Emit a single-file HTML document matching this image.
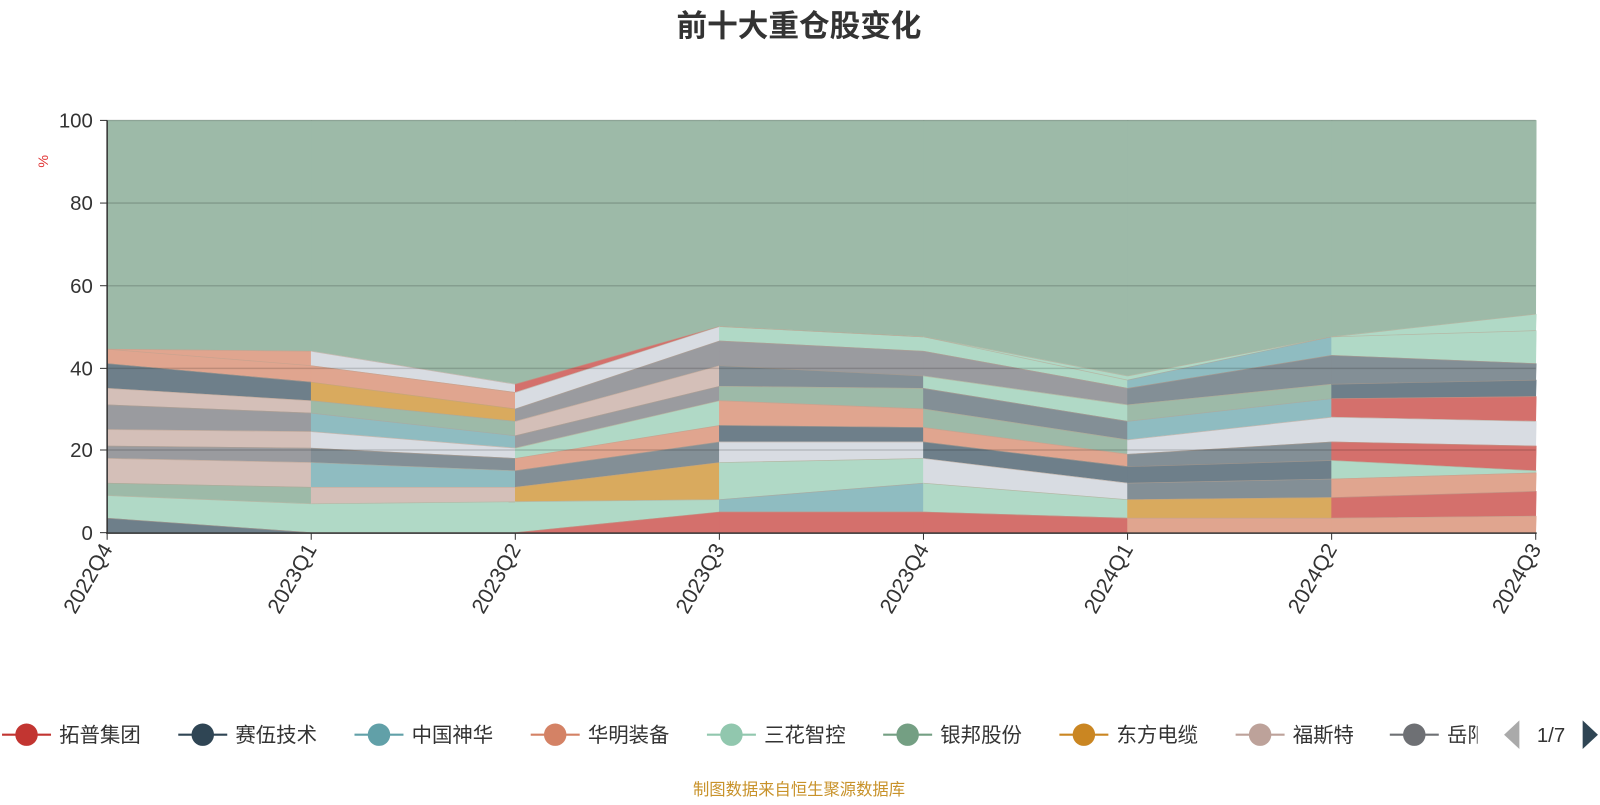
<!DOCTYPE html><html><head><meta charset="utf-8"><style>body{margin:0;background:#fff;width:1600px;height:800px;overflow:hidden;font-family:"Liberation Sans","Noto Sans CJK SC",sans-serif}</style></head><body>
<svg id="s" width="1600" height="800" viewBox="0 0 1568 784" xmlns="http://www.w3.org/2000/svg" font-family="Liberation Sans, Noto Sans CJK SC, sans-serif">
<text x="783" y="36" text-anchor="middle" font-size="30" font-weight="bold" fill="#333">前十大重仓股变化</text>
<g id="areas"></g>
<g stroke="#000" stroke-opacity="0.15" stroke-width="1.5">
<line x1="105" x2="1505" y1="118" y2="118"/><line x1="105" x2="1505" y1="199" y2="199"/><line x1="105" x2="1505" y1="280" y2="280"/><line x1="105" x2="1505" y1="361" y2="361"/><line x1="105" x2="1505" y1="441" y2="441"/></g>
<line x1="105" y1="118" x2="105" y2="523" stroke="#333" stroke-width="1.5"/>
<line x1="104" y1="522.5" x2="1506" y2="522.5" stroke="#333" stroke-width="1.5"/>
<g stroke="#333"><line x1="98" x2="105" y1="118" y2="118"/><line x1="98" x2="105" y1="199" y2="199"/><line x1="98" x2="105" y1="280" y2="280"/><line x1="98" x2="105" y1="361" y2="361"/><line x1="98" x2="105" y1="441" y2="441"/><line x1="98" x2="105" y1="522" y2="522"/></g>
<g font-size="20" fill="#333" text-anchor="end"><text x="91" y="125">100</text><text x="91" y="206">80</text><text x="91" y="287">60</text><text x="91" y="368">40</text><text x="91" y="448">20</text><text x="91" y="529">0</text></g>
<text x="47" y="158" fill="#e03030" font-size="14" transform="rotate(-90 47 158)" text-anchor="middle">%</text>
<g id="xl" font-size="21" fill="#333" text-anchor="end"></g>
<g id="leg" font-size="20" fill="#333"></g>
<polygon points="1489,706 1489,734 1474,720" fill="#aaa"/>
<text x="1520" y="727" font-size="20" fill="#333" text-anchor="middle">1/7</text>
<polygon points="1551,706 1551,734 1566,720" fill="#2f4554"/>
<text x="783" y="779" text-anchor="middle" font-size="16" fill="#c8922a">制图数据来自恒生聚源数据库</text>
</svg>
<script>
var C={g:'#9dbaa8',m:'#b0d9c6',s:'#6e7f8a',y:'#9a9b9f',b:'#838f96',e:'#d4bfb8',a:'#e0a58f',r:'#d4706c',t:'#8fbcc1',o:'#d9aa5e',w:'#d8dce2',h:'#9dbaa8'};
var cols=[
[[3.5,'s'],[9,'m'],[12,'h'],[18,'e'],[21,'y'],[25,'e'],[31,'y'],[35,'e'],[41,'s'],[44.5,'a']],
[[0,'s'],[7,'m'],[11,'e'],[17,'t'],[20.5,'b'],[24.5,'w'],[29,'t'],[32,'h'],[36.5,'o'],[40.5,'a'],[44,'w']],
[[0,'r'],[7.5,'m'],[11,'o'],[15,'b'],[18,'a'],[20.5,'m'],[23.5,'y'],[27,'e'],[30,'y'],[34,'w'],[36,'r']],
[[5,'r'],[8,'t'],[17,'m'],[22,'w'],[26,'s'],[32,'a'],[35.5,'h'],[40.5,'b'],[46.5,'y'],[50,'m']],
[[5,'r'],[12,'m'],[18,'w'],[22,'s'],[25.5,'a'],[30,'h'],[35,'b'],[38,'m'],[44,'y'],[47.5,'m']],
[[3.5,'a'],[8,'o'],[12,'b'],[16,'s'],[19,'b'],[22.5,'w'],[27,'t'],[31,'h'],[35,'b'],[37,'t'],[38,'m']],
[[3.5,'a'],[8.5,'r'],[13,'a'],[17.5,'m'],[22,'r'],[28,'w'],[32.5,'r'],[36,'s'],[43,'b'],[47.5,'m']],
[[4,'t'],[10,'r'],[14.5,'a'],[15,'m'],[21,'r'],[27,'w'],[33,'r'],[37,'s'],[41,'o'],[49,'b'],[53,'m']]];
var N=12;cols=cols.map(function(c){c=c.slice();while(c.length<N-1)c.push([c[c.length-1][0],c[c.length-1][1]]);c.push([100,'g']);return c;});
function X(i){return 105+200*i}function Y(v){return 522-v*4.04}
var h='';
for(var i=0;i<7;i++){var a=cols[i],b=cols[i+1];
for(var k=N-1;k>=0;k--){var la=k?a[k-1][0]:0,lb=k?b[k-1][0]:0;
var col=k==N-1?C.g:C[a[k][1]];
h+='<polygon points="'+X(i)+','+Y(la)+' '+X(i+1)+','+Y(lb)+' '+(X(i+1)+.5)+','+Y(b[k][0])+' '+X(i)+','+Y(a[k][0])+'" fill="'+col+'" stroke="'+col+'" stroke-width="0.6"/>';}
for(var k=0;k<N-1;k++)h+='<line x1="'+X(i)+'" y1="'+Y(a[k][0])+'" x2="'+X(i+1)+'" y2="'+Y(b[k][0])+'" stroke="#b9a28f" stroke-width="0.7" stroke-opacity="0.6"/>';}
document.getElementById('areas').innerHTML=h;
var q=['2022Q4','2023Q1','2023Q2','2023Q3','2023Q4','2024Q1','2024Q2','2024Q3'],t='';
q.forEach(function(s,i){var x=X(i)+6,y=538;t+='<line x1="'+X(i)+'" x2="'+X(i)+'" y1="522" y2="529" stroke="#333"/><text x="'+x+'" y="'+y+'" transform="rotate(-60 '+x+' '+y+')">'+s+'</text>';});
document.getElementById('xl').innerHTML=t;
var L=[['拓普集团','#c23531'],['赛伍技术','#2f4554'],['中国神华','#61a0a8'],['华明装备','#d48265'],['三花智控','#91c7ae'],['银邦股份','#749f83'],['东方电缆','#ca8622'],['福斯特','#bda29a'],['岳阳','#6e7074']],g='';
L.forEach(function(l,i){var x=i*172.7;if(i==8)x=1360;g+='<line x1="'+(x+2)+'" x2="'+(x+50)+'" y1="720" y2="720" stroke="'+l[1]+'" stroke-width="2"/><circle cx="'+(x+26)+'" cy="720" r="11" fill="'+l[1]+'"/><text x="'+(x+58)+'" y="727">'+l[0]+'</text>';});
g='<clipPath id="cp"><rect x="0" y="690" width="1448" height="60"/></clipPath><g clip-path="url(#cp)">'+g+'</g>';
document.getElementById('leg').innerHTML=g;
</script></body></html>
